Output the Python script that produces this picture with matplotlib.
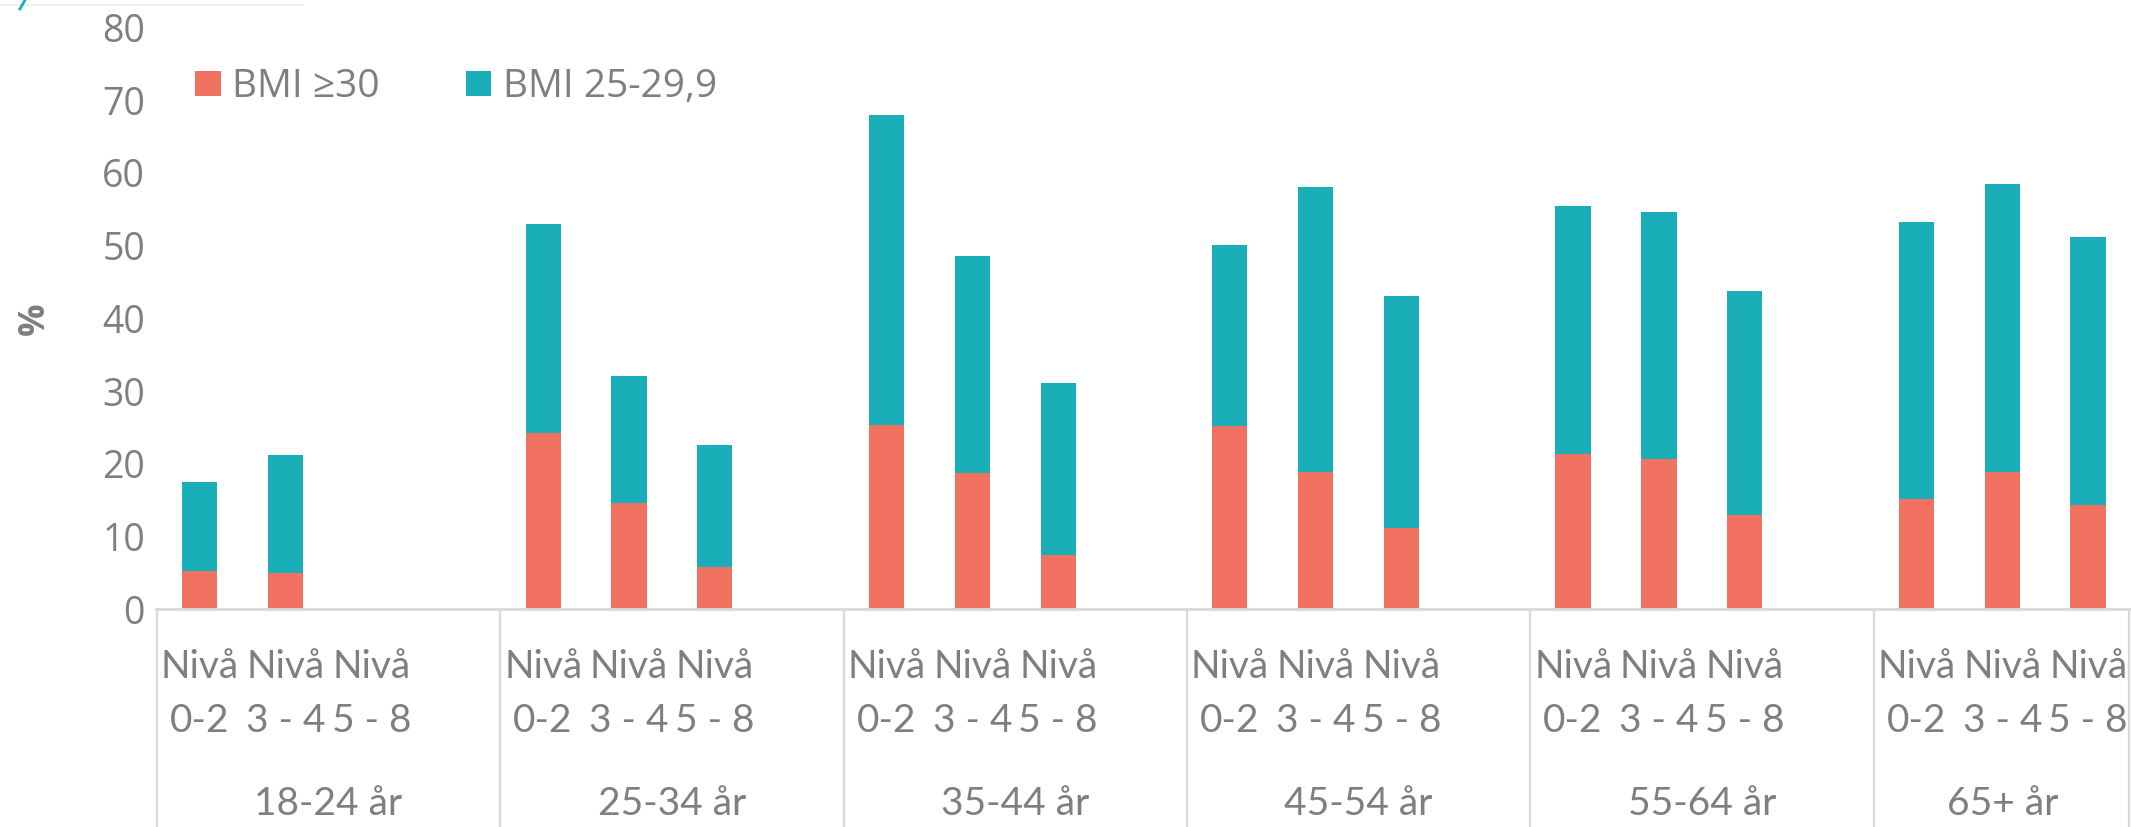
import numpy as np
import matplotlib.pyplot as plt
from matplotlib.lines import Line2D

# Andel med övervikt/fetma per åldersgrupp och utbildningsnivå (%)
age_groups = ["18-24 år", "25-34 år", "35-44 år", "45-54 år", "55-64 år", "65+ år"]
levels = ["0-2", "3 - 4", "5 - 8"]
series_names = ["BMI \u226530", "BMI 25-29,9"]

bmi_30 = [5.2, 5.0, np.nan,
          24.3, 14.6, 5.8,
          25.4, 18.8, 7.4,
          25.2, 18.9, 11.2,
          21.4, 20.6, 12.9,
          15.2, 18.9, 14.3]
bmi_25_29 = [12.3, 16.2, np.nan,
             28.6, 17.5, 16.8,
             42.6, 29.8, 23.7,
             24.9, 39.2, 31.8,
             34.1, 34.0, 30.9,
             38.0, 39.5, 36.9]

red = "#F17260"
teal = "#1AAFB8"
grey = "#7F7F7F"
line_grey = "#D9D9D9"

W, H = 2131, 827
fig = plt.figure(figsize=(W / 100, H / 100), dpi=100)
ax = fig.add_axes([156 / W, (H - 609.3) / H, 1975 / W, 582 / H])

# each age group takes four slots, the fourth one is an empty spacer
n_lev = len(levels)
slot = 4
x = np.array([g * slot + j for g in range(len(age_groups)) for j in range(n_lev)], dtype=float)
obese = np.array(bmi_30)
over = np.array(bmi_25_29)

ax.bar(x, obese, width=0.41, color=red, label=series_names[0])
ax.bar(x, over, width=0.41, bottom=obese, color=teal, label=series_names[1])

xmin, xmax = -0.51, 22.5
ax.set_xlim(xmin, xmax)
ax.set_ylim(0, 80)
ax.set_yticks(range(0, 81, 10))
ax.set_xticks([])
ax.tick_params(axis="y", length=0, pad=8, labelsize=27, labelcolor=grey)
for lab in ax.get_yticklabels():
    lab.set_fontfamily("Open Sans")

for side in ["left", "right", "top"]:
    ax.spines[side].set_visible(False)
ax.spines["bottom"].set_color(line_grey)
ax.spines["bottom"].set_linewidth(2)

ax.set_ylabel("%", fontsize=26, fontweight="bold", color=grey, family="Open Sans", va="center")
ax.yaxis.set_label_coords(-0.0613, 0.5)

# category labels below the axis
tr = ax.get_xaxis_transform()
for xi in x:
    lev = levels[int(xi) % slot]
    ax.text(xi, -0.118, "Nivå", transform=tr, ha="center", va="baseline",
            fontsize=28, color=grey, family="Lato")
    ax.text(xi, -0.2108, lev, transform=tr, ha="center", va="baseline",
            fontsize=28, color=grey, family="Lato")

for g, name in enumerate(age_groups):
    left = g * slot - 0.5
    right = min(left + slot, xmax)
    ax.text((left + right) / 2, -0.3531, name, transform=tr, ha="center", va="baseline",
            fontsize=28, color=grey, family="Lato")

# group separators running down from the axis to the bottom edge
bottom_frac = -(H - 609.3) / 582
edges = [g * slot - 0.5 for g in range(len(age_groups))] + [xmax - 0.02]
for e in edges:
    ax.plot([e, e], [0, bottom_frac], transform=tr, color=line_grey, lw=1.6,
            clip_on=False, solid_capstyle="butt")

leg = ax.legend(loc="center left", bbox_to_anchor=(0.0198, 0.8966), ncol=2, frameon=False,
                handlelength=0.66, handleheight=0.62, handletextpad=0.3,
                columnspacing=2.2, borderpad=0, borderaxespad=0,
                prop={"family": "Open Sans", "size": 28})
for t in leg.get_texts():
    t.set_color(grey)

# remnant of a frame above the chart
fig.add_artist(Line2D([0, 303 / W], [1 - 5 / H, 1 - 5 / H], color="#EEEEEE", lw=1.2))
fig.add_artist(Line2D([20 / W, 25 / W], [1 - 9 / H, 1.0], color=teal, lw=2))

fig.savefig("out.png", dpi=100)
